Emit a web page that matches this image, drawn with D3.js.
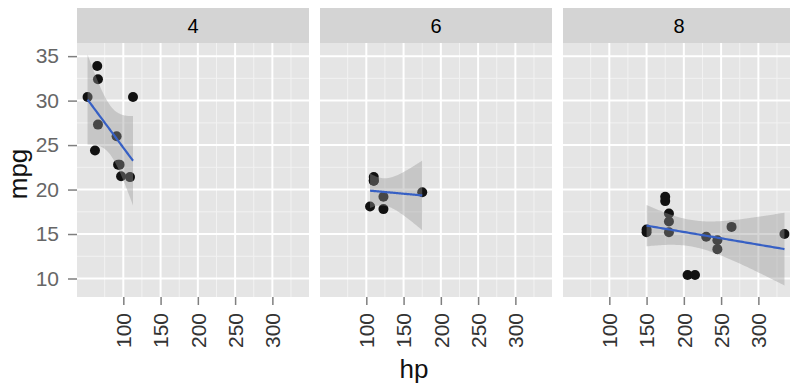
<!DOCTYPE html>
<html><head><meta charset="utf-8">
<script src="https://cdn.jsdelivr.net/npm/d3@7"></script>
<style>body{margin:0;background:#fff}svg{display:block}</style>
</head><body><svg id="c" width="790" height="388"></svg>
<script>
// ---- data (mtcars) ----
const facets = ["4", "6", "8"];
const hp4 = [93, 62, 95, 66, 52, 65, 97, 66, 91, 113, 109];
const mpg4 = [22.8, 24.4, 22.8, 32.4, 30.4, 33.9, 21.5, 27.3, 26.0, 30.4, 21.4];
const hp6 = [110, 110, 110, 105, 123, 123, 175];
const mpg6 = [21.0, 21.0, 21.4, 18.1, 19.2, 17.8, 19.7];
const hp8 = [175, 245, 180, 180, 180, 205, 215, 230, 150, 150, 245, 175, 264, 335];
const mpg8 = [18.7, 14.3, 16.4, 17.3, 15.2, 10.4, 10.4, 14.7, 15.5, 15.2, 13.3, 19.2, 15.8, 15.0];
const tCrit = [2.262, 2.571, 2.179]; // t(0.975, n-2)
const xTicks = [100, 150, 200, 250, 300];
const xMinor = [75, 125, 175, 225, 275, 325];
const yTicks = [10, 15, 20, 25, 30, 35];
const yMinor = [12.5, 17.5, 22.5, 27.5, 32.5];

const groups = [[hp4, mpg4], [hp6, mpg6], [hp8, mpg8]];

function fit(xs, ys, t) {
  const n = xs.length, mx = d3.mean(xs), my = d3.mean(ys);
  let sxx = 0, sxy = 0;
  xs.forEach((x, i) => { sxx += (x - mx) ** 2; sxy += (x - mx) * (ys[i] - my); });
  const b = sxy / sxx, a = my - b * mx;
  let sse = 0; xs.forEach((x, i) => { sse += (ys[i] - a - b * x) ** 2; });
  const s = Math.sqrt(sse / (n - 2));
  const [x0, x1] = d3.extent(xs);
  return d3.range(80).map(k => {
    const x = x0 + (x1 - x0) * k / 79;
    const yh = a + b * x;
    const se = s * Math.sqrt(1 / n + (x - mx) ** 2 / sxx);
    return { x, y: yh, lo: yh - t * se, hi: yh + t * se };
  });
}
const fits = groups.map((g, i) => fit(g[0], g[1], tCrit[i]));

// shared scales
const allX = [].concat(hp4, hp6, hp8);
const allY = [].concat(mpg4, mpg6, mpg8, ...fits.map(f => f.map(p => p.lo)), ...fits.map(f => f.map(p => p.hi)));
const [xmin, xmax] = d3.extent(allX); const xe = (xmax - xmin) * 0.05;
const [ymin, ymax] = d3.extent(allY); const ye = (ymax - ymin) * 0.05;

const panelLeft = [77, 320, 563], panelW = 232;
const stripTop = 8, stripBot = 43, panelBot = 297;
const y = d3.scaleLinear().domain([ymin - ye, ymax + ye]).range([panelBot, stripBot]);

const svg = d3.select("#c");
const font = "Liberation Sans, Arial, sans-serif";

facets.forEach((f, i) => {
  const L = panelLeft[i];
  const x = d3.scaleLinear().domain([xmin - xe, xmax + xe]).range([L, L + panelW]);
  const g = svg.append("g");
  // strip
  g.append("rect").attr("x", L).attr("y", stripTop).attr("width", panelW).attr("height", stripBot - stripTop).attr("fill", "#d4d4d4");
  g.append("text").attr("x", L + panelW / 2).attr("y", (stripTop + stripBot) / 2 + 7).attr("text-anchor", "middle")
    .attr("font-family", font).attr("font-size", 20).attr("fill", "#000").text(f);
  // panel bg
  g.append("rect").attr("x", L).attr("y", stripBot).attr("width", panelW).attr("height", panelBot - stripBot).attr("fill", "#e5e5e5");
  // minor grid
  g.selectAll(".xm").data(xMinor).join("line").attr("x1", d => x(d)).attr("x2", d => x(d)).attr("y1", stripBot).attr("y2", panelBot)
    .attr("stroke", "#f2f2f2").attr("stroke-width", 1);
  g.selectAll(".ym").data(yMinor).join("line").attr("y1", d => y(d)).attr("y2", d => y(d)).attr("x1", L).attr("x2", L + panelW)
    .attr("stroke", "#f2f2f2").attr("stroke-width", 1);
  // major grid
  g.selectAll(".xM").data(xTicks).join("line").attr("x1", d => x(d)).attr("x2", d => x(d)).attr("y1", stripBot).attr("y2", panelBot)
    .attr("stroke", "#fff").attr("stroke-width", 2);
  g.selectAll(".yM").data(yTicks).join("line").attr("y1", d => y(d)).attr("y2", d => y(d)).attr("x1", L).attr("x2", L + panelW)
    .attr("stroke", "#fff").attr("stroke-width", 2);

  // points
  const [xs, ys] = groups[i];
  g.selectAll("circle").data(xs.map((v, k) => [v, ys[k]])).join("circle")
    .attr("cx", d => x(d[0])).attr("cy", d => y(d[1])).attr("r", 5).attr("fill", "#111");
  // ribbon + fit line
  const fp = fits[i];
  g.append("path").datum(fp).attr("d", d3.area().x(d => x(d.x)).y0(d => y(d.lo)).y1(d => y(d.hi)))
    .attr("fill", "#999999").attr("fill-opacity", 0.4);
  g.append("path").datum(fp).attr("d", d3.line().x(d => x(d.x)).y(d => y(d.y)))
    .attr("fill", "none").attr("stroke", "#3760c4").attr("stroke-width", 2.2);

  // x axis
  const ax = g.append("g").attr("transform", `translate(0,${panelBot})`)
    .call(d3.axisBottom(x).tickValues(xTicks).tickSize(8).tickPadding(4));
  ax.select(".domain").remove();
  ax.selectAll(".tick line").attr("stroke", "#7f7f7f").attr("stroke-width", 1.5);
  ax.selectAll(".tick text").attr("font-family", font).attr("font-size", 21).attr("fill", "#333")
    .attr("transform", "rotate(-90)").attr("text-anchor", "end").attr("dy", "0.35em").attr("x", -16).attr("y", 0);
});

// y axis
const ay = svg.append("g").attr("transform", `translate(${panelLeft[0]},0)`)
  .call(d3.axisLeft(y).tickValues(yTicks).tickSize(9).tickPadding(9));
ay.select(".domain").remove();
ay.selectAll(".tick line").attr("stroke", "#7f7f7f").attr("stroke-width", 1.5);
ay.selectAll(".tick text").attr("font-family", font).attr("font-size", 21).attr("fill", "#666");

// titles
svg.append("text").attr("x", 414).attr("y", 378).attr("text-anchor", "middle").attr("font-family", font)
  .attr("font-size", 26).attr("fill", "#111").text("hp");
svg.append("text").attr("transform", "translate(27,174) rotate(-90)").attr("text-anchor", "middle").attr("font-family", font)
  .attr("font-size", 26).attr("fill", "#111").text("mpg");
</script></body></html>
